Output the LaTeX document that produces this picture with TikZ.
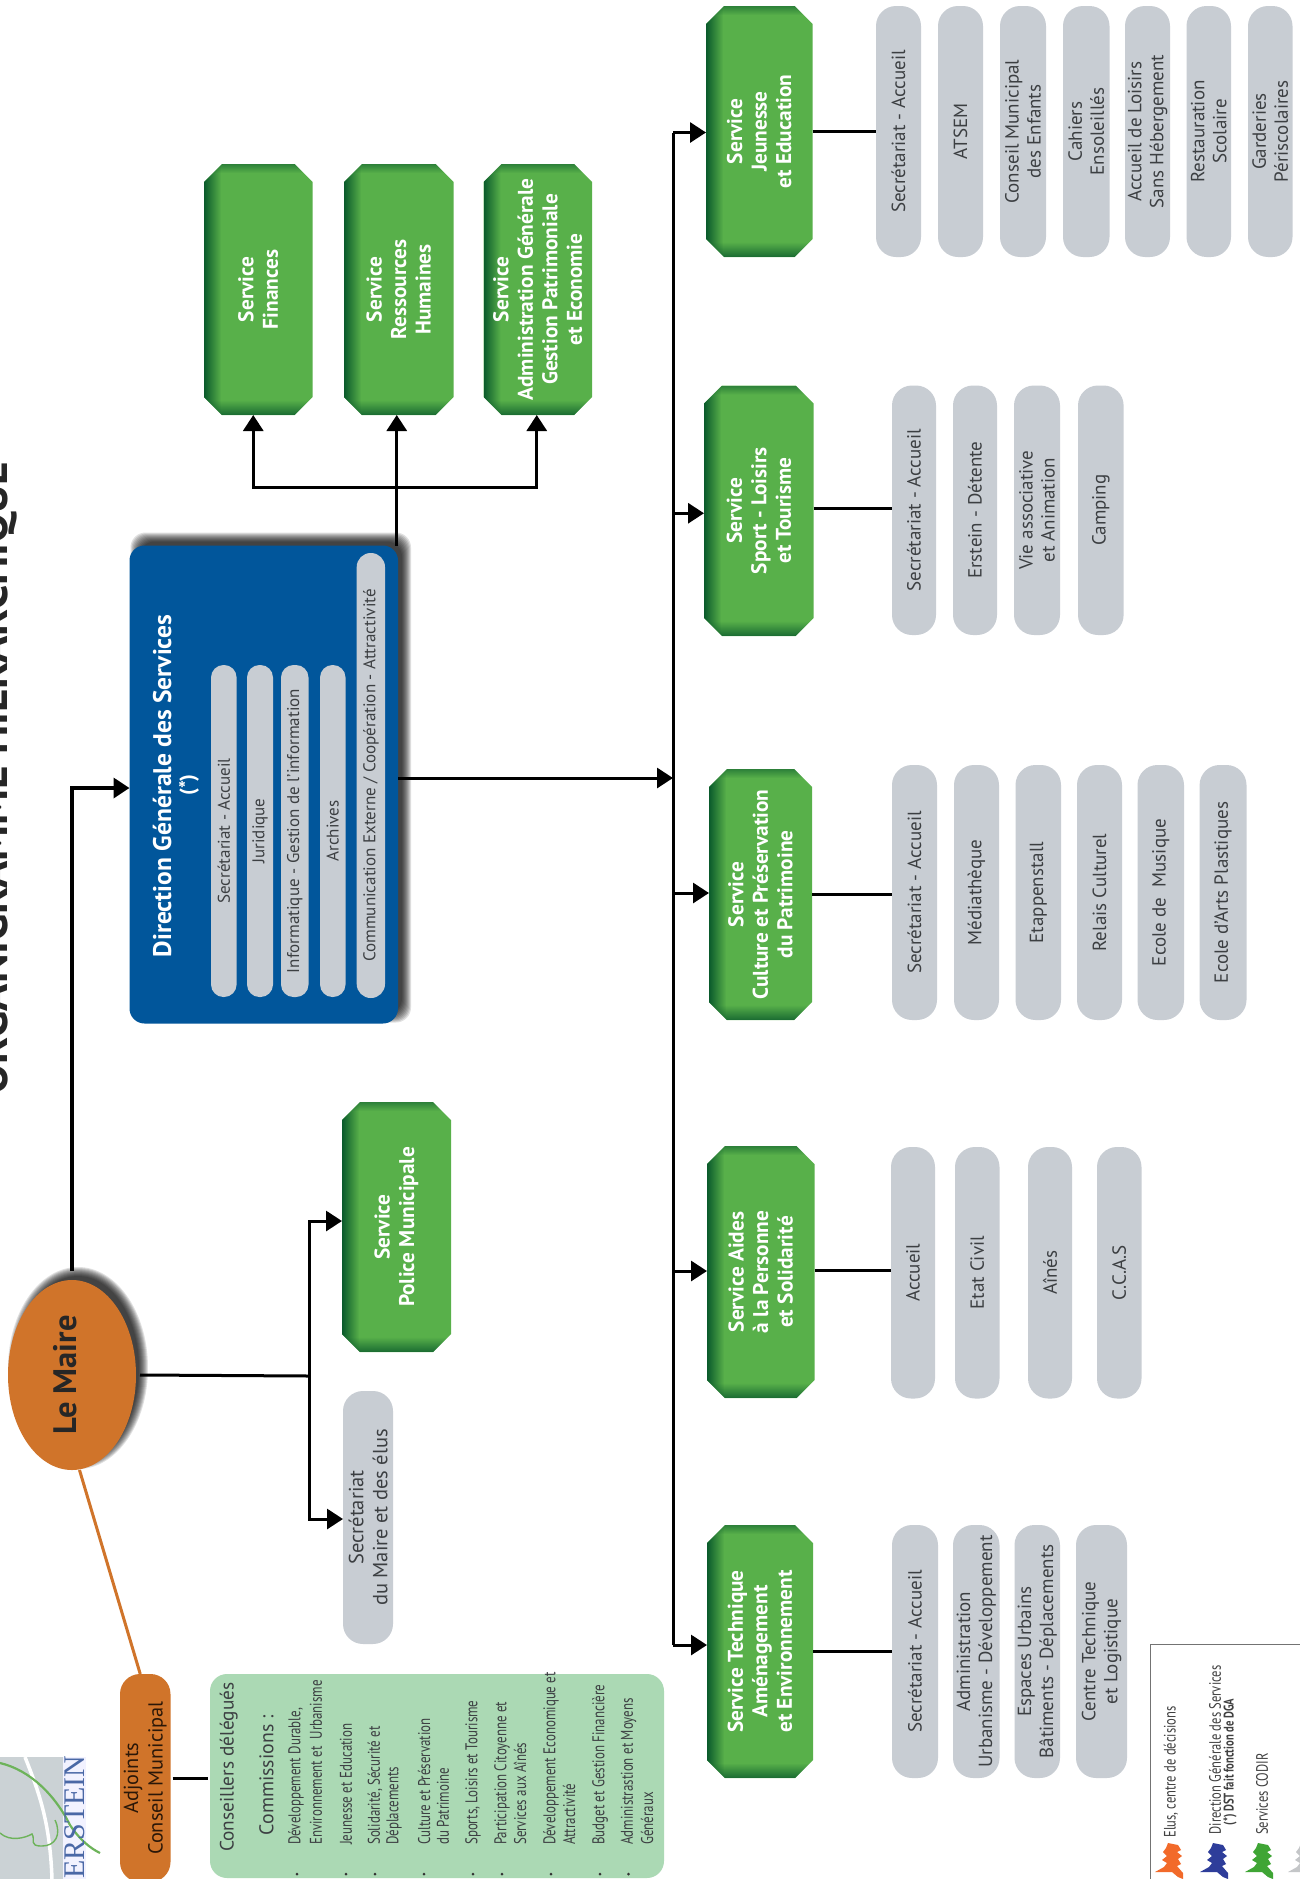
\documentclass[tikz,border=0pt]{standalone}
\usepackage{fontspec}
\setmainfont{PT Sans}
\newfontfamily\narrowf[FakeStretch=0.76]{PT Sans}
\newfontfamily\logof{Liberation Serif}
\usetikzlibrary{arrows.meta,shapes.geometric,fadings}
\definecolor{gmid}{HTML}{58B04A}
\definecolor{gdark}{HTML}{0A5A2C}
\definecolor{pillc}{HTML}{C8CDD3}
\definecolor{pillt}{HTML}{3C3F42}
\definecolor{orangec}{HTML}{D0742A}
\definecolor{bluec}{HTML}{01569B}
\definecolor{lightg}{HTML}{ABD9B4}
\definecolor{logog}{HTML}{CBD2D5}
\definecolor{logob}{HTML}{4A68A6}
\definecolor{logol}{HTML}{6DB35A}
\definecolor{scrO}{HTML}{F26A2A}
\definecolor{scrB}{HTML}{2E3D9A}
\definecolor{scrG}{HTML}{3FA535}
\definecolor{scrK}{HTML}{C4C6C8}
\tikzset{
  arr/.style={line width=3pt,-{Triangle[length=16pt,width=20pt]},line join=miter},
  link/.style={line width=3pt},
  svcnode/.style={rectangle,rotate=90,inner sep=0pt,outer sep=0pt},
  svctext/.style={rotate=90,inner sep=0pt,text=white,align=center,font=\fontsize{21.3}{24.5}\selectfont\bfseries},
  pillnode/.style={rectangle,rounded corners=20pt,fill=pillc,rotate=90,inner sep=0pt,outer sep=0pt,text=pillt,align=center,font=\fontsize{19}{22}\selectfont},
  dgspill/.style={pillnode,rounded corners=12.5pt,font=\fontsize{17}{19}\selectfont},
  itemtext/.style={rotate=90,anchor=west,inner sep=0pt,text=pillt,font=\narrowf\fontsize{17}{18}\selectfont},
  legtext/.style={rotate=90,inner sep=0pt,text=black!75,font=\narrowf\fontsize{16.5}{19}\selectfont},
  bullet/.style={circle,fill=black!80,inner sep=0pt,minimum size=3pt},
}
% name, x0,y0,x1,y1,text
\newcommand{\svcbox}[6]{%
  \pgfmathsetmacro{\cxx}{(#2+#4)/2}\pgfmathsetmacro{\cyy}{(#3+#5)/2}%
  \pgfmathsetmacro{\ww}{#5-#3}\pgfmathsetmacro{\hh}{#4-#2}%
  \node[svcnode,minimum width=\ww pt,minimum height=\hh pt] (#1) at (\cxx,\cyy) {};%
  \begin{scope}
    \fill[gmid] (#2+18,#3) -- (#4-18,#3) -- (#4,#3+18) -- (#4,#5-18) -- (#4-18,#5) -- (#2+18,#5) -- (#2,#5-18) -- (#2,#3+18) -- cycle;
    \clip (#2+18,#3) -- (#4-18,#3) -- (#4,#3+18) -- (#4,#5-18) -- (#4-18,#5) -- (#2+18,#5) -- (#2,#5-18) -- (#2,#3+18) -- cycle;
    \fill[gdark,path fading=north,opacity=.8] (#2,#5-15) rectangle (#4,#5);
    \fill[gdark,path fading=south,opacity=.55] (#2,#3) rectangle (#4,#3+9);
    \fill[gdark,path fading=east] (#2,#3) rectangle (#2+17,#5);
  \end{scope}
  \node[svctext] (#1t) at (\cxx,\cyy) {#6};%
}
\newcommand{\pillbox}[7][pillnode]{%
  \pgfmathsetmacro{\cxx}{(#3+#5)/2}\pgfmathsetmacro{\cyy}{(#4+#6)/2}%
  \pgfmathsetmacro{\ww}{#6-#4}\pgfmathsetmacro{\hh}{#5-#3}%
  \node[#1,minimum width=\ww pt,minimum height=\hh pt] (#2) at (\cxx,\cyy) {#7};%
}
\newcommand{\busarrow}[2]{%
  \coordinate (#1in) at ([yshift=#2pt]#1.north);
  \draw[arr] (bus |- #1in) -- (#1in);
}
\newcommand{\scrib}[2]{%
  \begin{scope}[shift={(#1,1820)}]
  \fill[#2] (18,23) -- (28,25) -- (31,30) -- (27,32) -- (32,36) -- (28,39) -- (31,44) -- (27,46) -- (33,53) -- (33,59) -- (28,57) -- (22,52) -- (5,52) -- (14,47) -- (17,43) -- (12,40) -- (17,36) -- (13,32) -- (16,28) -- cycle;
  \end{scope}
}
\begin{document}
\begin{tikzpicture}[x=1pt,y=-1pt]
\useasboundingbox (0,0) rectangle (1300,1879);
\clip (0,0) rectangle (1300,1879);
\fill[white] (0,0) rectangle (1300,1879);

% title
\node[rotate=90,anchor=base,inner sep=0pt,font=\fontsize{45}{45}\selectfont\bfseries,text=black!85] (title) at (8,778) {ORGANIGRAMME HIERARCHIQUE};

% logo
\fill[logog] (0,1757) rectangle (63,1879);
\draw[white,line width=3.5pt] (25,1757) .. controls (38,1790) and (50,1820) .. (52,1879);
\fill[blue!5] (63,1757) rectangle (86,1879);
\draw[logol,line width=2.2pt] (0,1763) .. controls (30,1770) and (55,1795) .. (70,1825) .. controls (80,1840) and (90,1848) .. (100,1853);
\draw[logol,line width=1.4pt] (0,1833) .. controls (10,1842) and (25,1838) .. (32,1834) .. controls (36,1840) and (28,1846) .. (42,1846) .. controls (55,1846) and (62,1835) .. (55,1820);
\node[rotate=90,inner sep=0pt,text=logob,font=\logof\fontsize{30}{30}\selectfont] (logotext) at (75,1817) {ERSTEIN};

% shadows
\foreach \i in {6,5,...,-3}{
  \fill[black,opacity=.12,rounded corners=15pt] (136.5-\i,538.5-\i) rectangle (405+\i,1016.5+\i);
  \fill[black,opacity=.12] (78,1368) ellipse [x radius=64+\i,y radius=95+\i];
}

% Maire
\node[ellipse,fill=orangec,rotate=90,minimum width=190pt,minimum height=128pt,inner sep=0pt,outer sep=0pt] (maire) at (72,1375) {};
\node[rotate=90,inner sep=0pt,font=\fontsize{32.5}{32.5}\selectfont\bfseries,text=black!85] (mairet) at (65.5,1375) {Le Maire};

% Adjoints
\pillbox[pillnode,fill=orangec,text=black!80!orangec,font=\fontsize{20.3}{24.5}\selectfont]{adj}{120}{1674}{170.5}{1882}{Adjoints\\Conseil Municipal}
\draw[orangec,line width=3pt] ([xshift=7.5pt]maire.west) -- ([xshift=-5pt]adj.east);

% conseillers
\node[rectangle,rounded corners=17pt,fill=lightg,rotate=90,minimum width=204pt,minimum height=454pt,inner sep=0pt,outer sep=0pt] (cons) at (437,1776) {};
\draw[link] ([xshift=2pt]adj.south) -- ([xshift=-2pt]cons.north |- adj.south);
\node[rotate=90,inner sep=0pt,text=pillt,font=\fontsize{19.3}{22}\selectfont] (ct1) at (228.6,1767) {Conseillers délégués};
\node[rotate=90,inner sep=0pt,text=pillt,font=\fontsize{19.8}{22}\selectfont] (ct2) at (266.5,1775) {Commissions :};
\node[itemtext] (ci1) at (296,1845) {Développement Durable,};
\node[itemtext] (ci2) at (316,1845) {Environnement et\ \ Urbanisme};
\node[itemtext] (ci3) at (346,1845) {Jeunesse et Education};
\node[itemtext] (ci4) at (375,1845) {Solidarité, Sécurité et};
\node[itemtext] (ci5) at (394,1845) {Déplacements};
\node[itemtext] (ci6) at (424,1845) {Culture et Préservation};
\node[itemtext] (ci7) at (443,1845) {du Patrimoine};
\node[itemtext] (ci8) at (473,1845) {Sports, Loisirs et Tourisme};
\node[itemtext] (ci9) at (502,1845) {Participation Citoyenne et};
\node[itemtext] (ci10) at (520,1845) {Services aux Aînés};
\node[itemtext] (ci11) at (551,1845) {Développement Economique et};
\node[itemtext] (ci12) at (569,1845) {Attractivité};
\node[itemtext] (ci13) at (600,1845) {Budget et Gestion Financière};
\node[itemtext] (ci14) at (628.5,1845) {Administrastion et Moyens};
\node[itemtext] (ci15) at (647,1845) {Généraux};
\foreach \x in {297,346,375,424,473,502,551,600,628.5}{\node[bullet] (b\x) at (\x,1874) {};}

% DGS
\node[rectangle,rounded corners=15pt,fill=bluec,rotate=90,minimum width=478pt,minimum height=268.5pt,inner sep=0pt,outer sep=0pt] (dgs) at (263.75,784.5) {};
\node[rotate=90,inner sep=0pt,text=white,font=\fontsize{25.5}{25.5}\selectfont\bfseries] (dgst) at (162,786) {Direction Générale des Services};
\node[rotate=90,inner sep=0pt,text=white,font=\fontsize{21}{21}\selectfont\bfseries] (dgss) at (189,785) {(*)};
\pillbox[dgspill]{d1}{211}{665}{236.6}{997}{Secrétariat - Accueil}
\pillbox[dgspill]{d2}{247}{665}{273}{997}{Juridique}
\pillbox[dgspill]{d3}{281}{665}{308.5}{997}{Informatique - Gestion de l'information}
\pillbox[dgspill]{d4}{320}{665}{345.5}{997}{Archives}
\pillbox[dgspill,rounded corners=14pt]{d5}{356.7}{553}{385}{998}{Communication Externe / Coopération - Attractivité}

% top services
\svcbox{fin}{204}{164}{312.5}{415}{Service\\Finances}
\svcbox{rh}{344}{164}{453.5}{415}{Service\\Ressources\\Humaines}
\svcbox{adm}{483.5}{164}{592}{415}{Service\\Administration Générale\\Gestion Patrimoniale\\et Economie}
\coordinate (finin) at ([xshift=-5pt]fin.west);
\coordinate (rhin) at ([xshift=-2pt]rh.west);
\coordinate (admin) at ([xshift=-1pt]adm.west);
\coordinate (fbar) at (rhin |- 0,487.5);
\draw[arr] (rhin |- dgs.east) -- (rhin);
\draw[arr] (fbar) -| (finin);
\draw[arr] (fbar) -| (admin);

% police + secretariat
\svcbox{police}{342}{1102}{451}{1352}{Service\\Police Municipale}
\pillbox[pillnode,font=\fontsize{20.5}{24}\selectfont]{secr}{343}{1391}{393}{1644}{Secrétariat\\du Maire et des élus}
\coordinate (mj) at (309,1376);
\draw[link] ([xshift=4pt]maire.south) -- (mj);
\coordinate (polin) at ([yshift=6pt]police.north);
\coordinate (secin) at ([yshift=-1.5pt]secr.north);
\draw[arr] (mj) |- (polin);
\draw[arr] (mj) |- (secin);
\draw[arr,line width=3.5pt] ([yshift=9pt]maire.east) |- ([yshift=-3.5pt]dgs.north);

% Service row
\svcbox{jeun}{706}{6}{812.5}{257}{Service\\Jeunesse\\et Education}
\svcbox{sport}{704}{385.5}{813.6}{636}{Service\\Sport - Loisirs\\et Tourisme}
\svcbox{cult}{709}{769}{812}{1020}{Service\\Culture et Préservation\\du Patrimoine}
\svcbox{aides}{707}{1146}{814.5}{1398}{Service Aides\\à la Personne\\et Solidarité}
\svcbox{tech}{707}{1525}{813}{1778}{Service Technique\\Aménagement\\et Environnement}

% bus
\coordinate (bus) at (673,132.5);
\coordinate (busbot) at (673,1645);
\draw[link,line cap=square] (bus) -- (busbot);
\coordinate (busdgs) at (673,778);
\draw[arr] ([yshift=6.5pt]dgs.south) -- (busdgs);
\busarrow{jeun}{-1}
\busarrow{sport}{-2.5}
\busarrow{cult}{1.5}
\busarrow{aides}{1}
\busarrow{tech}{6.5}

% Jeunesse pills
\pillbox{j1}{876}{6}{921}{257}{Secrétariat - Accueil}
\pillbox{j2}{938}{6}{983}{257}{ATSEM}
\pillbox{j3}{1000}{6}{1046}{257}{Conseil Municipal\\des Enfants}
\pillbox{j4}{1063}{6}{1109.5}{257}{Cahiers\\Ensoleillés}
\pillbox{j5}{1125}{6}{1170}{257}{Accueil de Loisirs\\Sans Hébergement}
\pillbox{j6}{1186.5}{6}{1231}{257}{Restauration\\Scolaire}
\pillbox{j7}{1248}{6}{1292.5}{257}{Garderies\\Périscolaires}
\draw[link] (jeun.south) -- (jeun.south -| j1.north);

% Sport pills
\pillbox{s1}{892}{385.5}{936}{635}{Secrétariat - Accueil}
\pillbox{s2}{953}{385.5}{997}{635}{Erstein - Détente}
\pillbox{s3}{1014}{385.5}{1060}{635}{Vie associative\\et Animation}
\pillbox{s4}{1078}{385.5}{1123.6}{635}{Camping}
\coordinate (sportout) at ([yshift=2.5pt]sport.south);
\draw[link] (sportout) -- (sportout -| s1.north);

% Culture pills
\pillbox{c1}{892}{765}{937}{1020}{Secrétariat - Accueil}
\pillbox{c2}{954}{765}{999}{1020}{Médiathèque}
\pillbox{c3}{1015.5}{765}{1061}{1020}{Etappenstall}
\pillbox{c4}{1077}{765}{1122}{1020}{Relais Culturel}
\pillbox{c5}{1137.5}{765}{1184}{1020}{Ecole de\ \ Musique}
\pillbox{c6}{1199.6}{765}{1246.5}{1020}{Ecole d'Arts Plastiques}
\draw[link] (cult.south) -- (cult.south -| c1.north);

% Aides pills
\pillbox{a1}{891}{1147}{935}{1398.5}{Accueil}
\pillbox{a2}{955}{1147}{999.5}{1398.5}{Etat Civil}
\pillbox{a3}{1028}{1147}{1072}{1398.5}{Aînés}
\pillbox{a4}{1097}{1147}{1141.5}{1398.5}{C.C.A.S}
\coordinate (aidesout) at ([yshift=2pt]aides.south);
\draw[link] (aidesout) -- (aidesout -| a1.north);

% Tech pills
\pillbox{t1}{892}{1525}{938}{1778}{Secrétariat - Accueil}
\pillbox{t2}{953}{1525}{999.5}{1778}{Administration\\Urbanisme - Développement}
\pillbox{t3}{1014.5}{1525}{1060}{1778}{Espaces Urbains\\Bâtiments - Déplacements}
\pillbox{t4}{1076}{1525}{1127}{1778}{Centre Technique\\et Logistique}
\draw[link] (tech.south) -- (tech.south -| t1.north);

% legend
\draw[black!55,line width=1pt] (1320,1644) -- (1150,1644) -- (1150,1890);
\node[legtext] (l1) at (1171,1772) {Elus, centre de décisions};
\node[legtext] (l2) at (1215,1750) {Direction Générale des Services};
\node[legtext,font=\narrowf\fontsize{14}{16}\selectfont\bfseries] (l3) at (1230,1762) {(*) DST fait fonction de DGA};
\node[legtext] (l4) at (1262,1794) {Services CODIR};
\scrib{1150}{scrO}
\scrib{1195}{scrB}
\scrib{1240}{scrG}
\scrib{1283}{scrK}
\end{tikzpicture}
\end{document}
